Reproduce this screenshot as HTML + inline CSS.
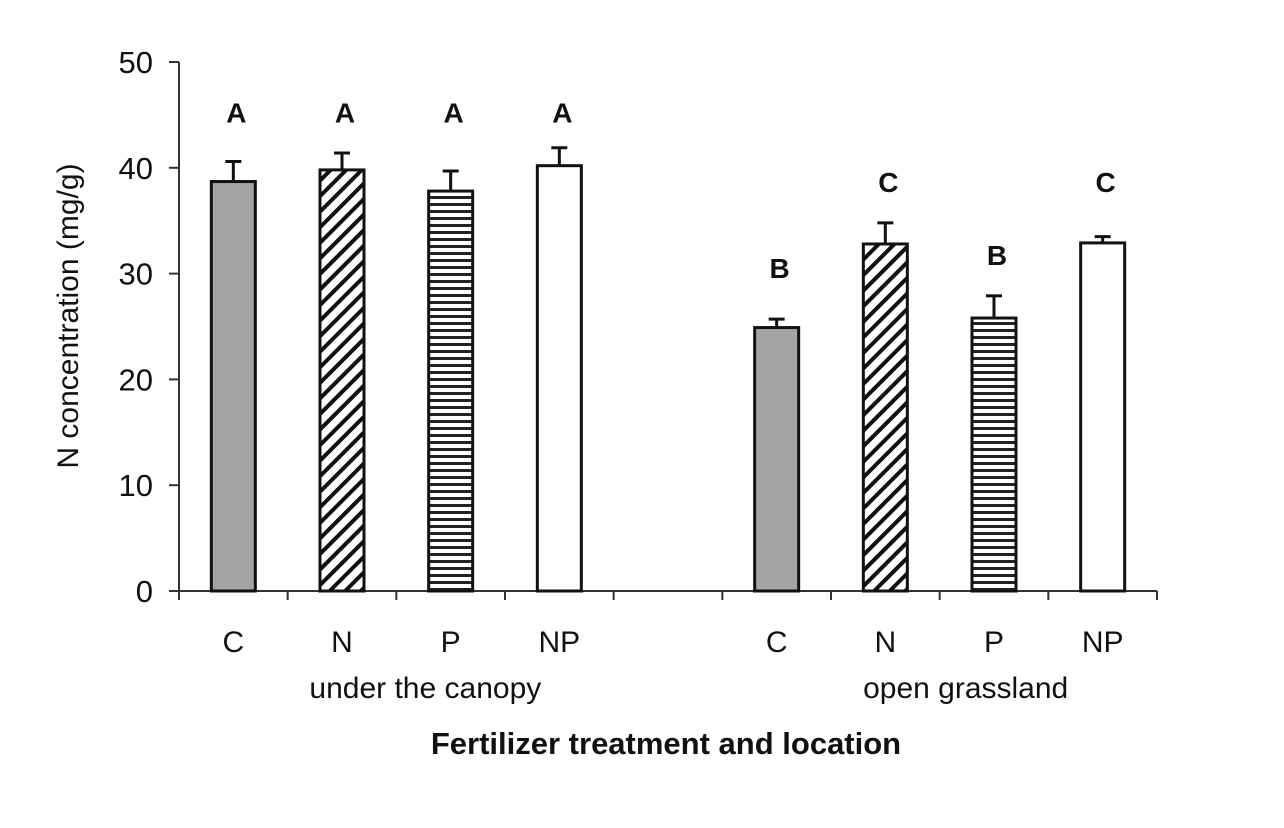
<!DOCTYPE html>
<html><head><meta charset="utf-8"><style>
html,body{margin:0;padding:0;background:#fff;}
svg{display:block;font-family:"Liberation Sans",sans-serif;}
</style></head><body>
<svg id="chart" width="1284" height="828" viewBox="0 0 1284 828">
<defs>
<pattern id="diag" patternUnits="userSpaceOnUse" width="11" height="11" patternTransform="rotate(45)">
<rect width="11" height="11" fill="#fff"/><rect width="4" height="11" fill="#111"/></pattern>
<pattern id="horiz" patternUnits="userSpaceOnUse" width="8" height="7">
<rect width="8" height="7" fill="#fff"/><rect width="8" height="3" fill="#222"/></pattern>
</defs>
<g id="plot"></g>
</svg>
<script>
const categories=["C","N","P","NP","","C","N","P","NP"];
const values=[38.7,39.8,37.8,40.2,null,24.9,32.8,25.8,32.9];
const errors=[1.9,1.6,1.9,1.7,null,0.8,2.0,2.1,0.6];
const letters=["A","A","A","A","","B","C","B","C"];
const letterVals=[44.3,44.3,44.3,44.3,null,29.6,37.7,30.8,37.7];
const fills=["#a4a4a4","url(#diag)","url(#horiz)","#fff","","#a4a4a4","url(#diag)","url(#horiz)","#fff"];
const yTicks=[0,10,20,30,40,50];
const groups=["under the canopy","open grassland"];

const NS="http://www.w3.org/2000/svg";
const g=document.getElementById('plot');
const x0=179,x1=1157,y0=591,y50=62;
const slot=(x1-x0)/categories.length;
const xc=i=>x0+slot*(i+0.5);
const ys=v=>y0-(v/50)*(y0-y50);
function mk(t,a,txt){const e=document.createElementNS(NS,t);for(const k in a)e.setAttribute(k,a[k]);if(txt!=null)e.textContent=txt;g.appendChild(e);return e;}

let e=mk('line',{x1:x0,y1:y50,x2:x0,y2:y0+8,stroke:'#333','stroke-width':2});

e=mk('line',{x1:x0-3,y1:y0,x2:x1,y2:y0,stroke:'#333','stroke-width':2});

yTicks.forEach(v=>{
 let t=mk('line',{x1:x0-10,y1:ys(v),x2:x0,y2:ys(v),stroke:'#333','stroke-width':2});
 
 let l=mk('text',{x:x0-26,y:ys(v)+11,'text-anchor':'end','font-size':31,fill:'#111'},v);
 
});
for(let i=0;i<=categories.length;i++){
 let t=mk('line',{x1:x0+slot*i,y1:y0,x2:x0+slot*i,y2:y0+9,stroke:'#333','stroke-width':2});
 
}
const bw=44;
categories.forEach((c,i)=>{
 if(values[i]==null)return;
 const cx=xc(i),top=ys(values[i]),et=ys(values[i]+errors[i]);
 let el=mk('line',{x1:cx,y1:top,x2:cx,y2:et,stroke:'#111','stroke-width':3});
 
 el=mk('line',{x1:cx-8,y1:et,x2:cx+8,y2:et,stroke:'#111','stroke-width':3});
 
 el=mk('rect',{x:cx-bw/2,y:top,width:bw,height:y0-top,fill:fills[i],stroke:'#111','stroke-width':3});
 
 el=mk('text',{x:cx+3,y:ys(letterVals[i]),'text-anchor':'middle','font-size':28,'font-weight':'bold',fill:'#111'},letters[i]);
 
 el=mk('text',{x:cx,y:652,'text-anchor':'middle','font-size':30,fill:'#111'},c);
 
});
groups.forEach((gname,j)=>{
 let el=mk('text',{x:j==0?(xc(1)+xc(2))/2+29:(xc(6)+xc(7))/2+26,y:698,'text-anchor':'middle','font-size':30,fill:'#111'},gname);
 
});
e=mk('text',{x:666,y:754,'text-anchor':'middle','font-size':31,'font-weight':'bold',fill:'#111'},'Fertilizer treatment and location');

e=mk('text',{x:0,y:0,'text-anchor':'middle','font-size':30,fill:'#111',transform:'translate(78,316) rotate(-90)'},'N concentration (mg/g)');

</script>
</body></html>
